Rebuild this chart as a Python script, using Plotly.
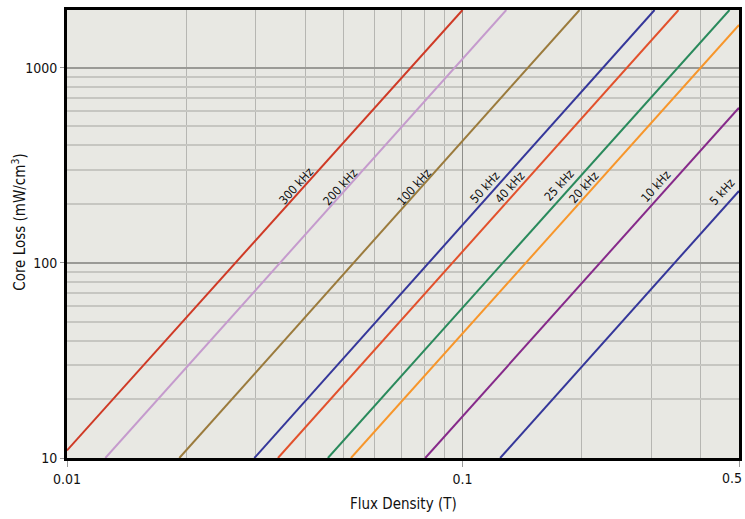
import math
import plotly.graph_objects as go

# Each series: two end points (B in T, P in mW/cm^3)
freq_labels = ["300 kHz", "200 kHz", "100 kHz", "50 kHz", "40 kHz", "25 kHz", "20 kHz", "10 kHz", "5 kHz"]
b_start = [0.01, 0.0125, 0.01923, 0.02976, 0.03415, 0.04567, 0.05223, 0.0805, 0.1245]
p_start = [10.94, 10, 10, 10, 10, 10, 10, 10, 10]
b_end = [0.1, 0.129, 0.1976, 0.3058, 0.3516, 0.4731, 0.5, 0.5, 0.5]
p_end = [1975, 1975, 1975, 1975, 1975, 1975, 1654, 624, 233.7]
line_colors = ["#cf3a26", "#c59bcd", "#9b7b3d", "#35379a", "#e2512c", "#2a8a5c", "#f7962b", "#862a8a", "#35379a"]

# Label centres (B, P)
label_b = [0.03798, 0.04909, 0.07551, 0.1141, 0.1320, 0.1756, 0.2031, 0.3089, 0.4535]
label_p = [248, 245, 245, 245, 245, 252, 245, 248, 231]

x_major = [0.01, 0.1, 0.5]
x_major_text = ["0.01", "0.1", "0.5"]
x_minor = [0.02, 0.03, 0.04, 0.05, 0.06, 0.07, 0.08, 0.09, 0.2, 0.3, 0.4]
y_major = [10, 100, 1000]
y_major_text = ["10", "100", "1000"]
y_minor = [20, 30, 40, 50, 60, 70, 80, 90, 200, 300, 400, 500, 600, 700, 800, 900]

FONT = "DejaVu Sans Condensed, DejaVu Sans, sans-serif"

fig = go.Figure()
for name, b0, p0, b1, p1, c in zip(freq_labels, b_start, p_start, b_end, p_end, line_colors):
    fig.add_trace(go.Scatter(x=[b0, b1], y=[p0, p1], mode="lines", name=name,
                             line=dict(color=c, width=2), showlegend=False, hoverinfo="name"))

for name, bx, py in zip(freq_labels, label_b, label_p):
    fig.add_annotation(x=math.log10(bx), y=math.log10(py), xref="x", yref="y", text=name, showarrow=False,
                       textangle=-48, font=dict(family=FONT, size=12, color="#111"),
                       xanchor="center", yanchor="middle")

fig.add_annotation(x=-0.0716, y=0.527, xref="paper", yref="paper", text="Core Loss (mW/cm<sup>3</sup>)",
                   showarrow=False, textangle=-90, font=dict(family=FONT, size=15, color="#111"),
                   xanchor="center", yanchor="middle")
fig.add_annotation(x=0.5, y=-0.102, xref="paper", yref="paper", text="Flux Density (T)",
                   showarrow=False, font=dict(family=FONT, size=15, color="#111"),
                   xanchor="center", yanchor="middle")

# last x tick label sits flush with the right edge (drawn as an annotation so it is not clipped)
x_tick_text_shown = x_major_text[:-1] + [""]
fig.add_annotation(x=math.log10(x_major[-1]), y=0, xref="x", yref="paper", text=x_major_text[-1],
                   showarrow=False, xanchor="right", yanchor="top", xshift=5, yshift=-10,
                   font=dict(family=FONT, size=14, color="#111"))

fig.update_layout(
    width=745, height=519,
    margin=dict(l=67, r=6, t=10, b=61),
    paper_bgcolor="white", plot_bgcolor="#e8e8e3",
    xaxis=dict(
        type="log", range=[math.log10(0.01), math.log10(0.5) + 1e-6], automargin=False,
        tickvals=x_major, ticktext=x_tick_text_shown,
        tickfont=dict(size=14, family=FONT, color="#111"),
        showgrid=True, gridcolor="#8e8e8a", gridwidth=1,
        minor=dict(tickvals=x_minor, showgrid=True, gridcolor="#b6b6b2", gridwidth=1, ticks=""),
        ticks="outside", ticklen=6, tickcolor="#999", tickwidth=1,
        showline=True, linecolor="black", linewidth=3, mirror=True,
        zeroline=False,
    ),
    yaxis=dict(
        type="log", range=[1, math.log10(1975)], automargin=False,
        tickvals=y_major, ticktext=y_major_text,
        tickfont=dict(size=14, family=FONT, color="#111"),
        showgrid=True, gridcolor="#9a9a96", gridwidth=2,
        minor=dict(tickvals=y_minor, showgrid=True, gridcolor="#c6c6c1", gridwidth=2, ticks=""),
        ticks="outside", ticklen=4, tickcolor="#999", tickwidth=1,
        showline=True, linecolor="black", linewidth=3, mirror=True,
        zeroline=False,
    ),
)

fig.write_html("out.html", config={"displayModeBar": False},
               post_script="document.body.style.margin='0';document.body.style.overflow='hidden';")
